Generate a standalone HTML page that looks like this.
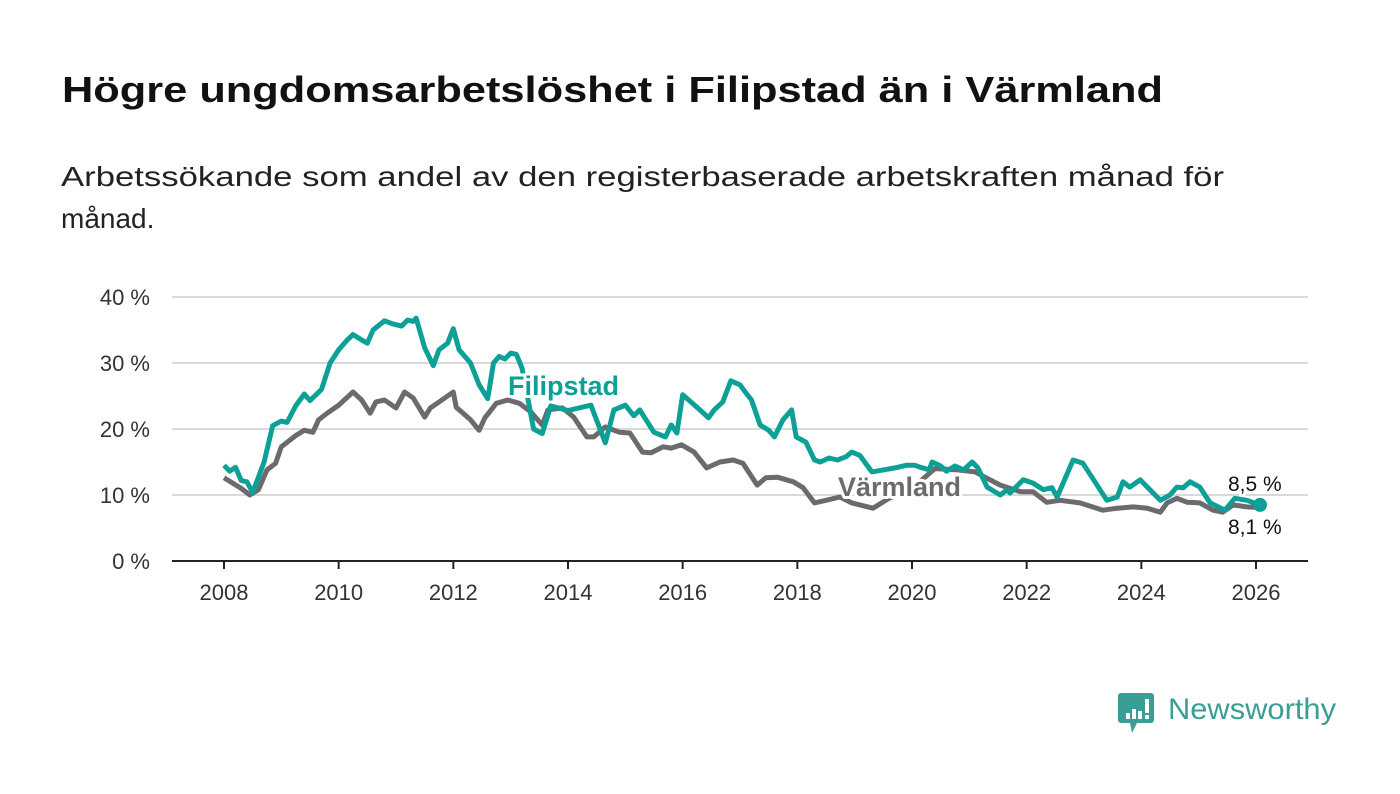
<!DOCTYPE html>
<html><head><meta charset="utf-8"><style>
html,body{margin:0;padding:0;background:#fff;}
svg{display:block;font-family:"Liberation Sans",sans-serif;}
.halo{paint-order:stroke;stroke:#fff;stroke-width:6px;stroke-linejoin:round;}
</style></head><body>
<svg id="chart" width="1400" height="794" viewBox="0 0 1400 794">
<text x="62" y="102" font-size="36" font-weight="bold" fill="#111" textLength="1101" lengthAdjust="spacingAndGlyphs">Högre ungdomsarbetslöshet i Filipstad än i Värmland</text>
<text x="61" y="186" font-size="28" fill="#222" textLength="1163" lengthAdjust="spacingAndGlyphs">Arbetssökande som andel av den registerbaserade arbetskraften månad för</text>
<text x="61" y="228" font-size="28" fill="#222">månad.</text>
<g id="grid"></g><g id="xaxis"></g><g id="lines"></g><g id="labels"></g>
<g>
<path d="M1121 693 h30 a3 3 0 0 1 3 3 v24 a3 3 0 0 1 -3 3 h-14 l-5 10 l-2 -10 h-9 a3 3 0 0 1 -3 -3 v-24 a3 3 0 0 1 3 -3z" fill="#3a9e96"/>
<rect x="1126" y="713" width="4" height="6" fill="#fff"/><rect x="1132" y="709" width="4" height="10" fill="#fff"/><rect x="1138" y="711" width="4" height="8" fill="#fff"/><rect x="1145" y="699" width="4" height="14" fill="#fff"/><rect x="1145" y="715" width="4" height="4" fill="#fff"/>
<text x="1168" y="719" font-size="30" fill="#3a9e96" textLength="168" lengthAdjust="spacingAndGlyphs">Newsworthy</text>
</g>
</svg>
<script>
const yTicks=[0,10,20,30,40];
const xTicks=[2008,2010,2012,2014,2016,2018,2020,2022,2024,2026];
const filDates=[2008.0,2008.1,2008.2,2008.3,2008.4,2008.5,2008.7,2008.85,2009.0,2009.1,2009.25,2009.4,2009.5,2009.7,2009.85,2010.0,2010.15,2010.25,2010.4,2010.5,2010.6,2010.8,2010.95,2011.1,2011.2,2011.3,2011.35,2011.5,2011.65,2011.75,2011.9,2012.0,2012.1,2012.3,2012.45,2012.6,2012.7,2012.8,2012.9,2013.0,2013.1,2013.2,2013.4,2013.55,2013.7,2014.0,2014.4,2014.65,2014.8,2015.0,2015.15,2015.25,2015.5,2015.7,2015.8,2015.9,2016.0,2016.3,2016.45,2016.55,2016.7,2016.84,2017.0,2017.1,2017.2,2017.35,2017.5,2017.6,2017.75,2017.9,2017.98,2018.15,2018.3,2018.4,2018.55,2018.7,2018.85,2018.95,2019.09,2019.3,2019.5,2019.7,2019.9,2020.05,2020.15,2020.3,2020.35,2020.5,2020.6,2020.75,2020.9,2021.05,2021.15,2021.31,2021.54,2021.66,2021.71,2021.94,2022.11,2022.29,2022.44,2022.53,2022.81,2022.98,2023.4,2023.58,2023.68,2023.8,2023.98,2024.33,2024.5,2024.62,2024.73,2024.85,2025.02,2025.2,2025.46,2025.63,2025.84,2026.07];
const filValues=[14.5,13.6,14.2,12.2,12.0,10.4,15,20.5,21.2,21.0,23.5,25.3,24.3,26,30,32,33.5,34.3,33.5,33,35,36.4,35.9,35.6,36.5,36.3,36.8,32.3,29.6,32,33,35.2,32,30,26.7,24.6,30,31,30.6,31.5,31.3,29.2,20,19.3,23.5,22.8,23.6,17.9,22.9,23.6,22,22.9,19.5,18.8,20.6,19.4,25.2,22.9,21.7,22.9,24.1,27.3,26.7,25.5,24.4,20.6,19.8,18.8,21.4,22.9,18.8,18.0,15.3,15.0,15.6,15.3,15.8,16.5,16,13.5,13.8,14.1,14.5,14.5,14.2,13.8,15.0,14.4,13.6,14.4,13.8,15.0,14.1,11.2,10.0,10.8,10.3,12.3,11.8,10.8,11.1,9.7,15.3,14.8,9.2,9.7,12.0,11.2,12.3,9.2,10,11.2,11.1,12,11.2,8.8,7.7,9.5,9.2,8.5];
const varDates=[2008.0,2008.3,2008.45,2008.6,2008.75,2008.9,2009.0,2009.25,2009.4,2009.55,2009.65,2009.8,2010.0,2010.25,2010.4,2010.55,2010.65,2010.8,2011.0,2011.15,2011.3,2011.5,2011.6,2011.8,2012.0,2012.05,2012.3,2012.45,2012.55,2012.75,2012.95,2013.15,2013.35,2013.55,2013.65,2013.9,2014.1,2014.33,2014.45,2014.65,2014.9,2015.08,2015.3,2015.45,2015.66,2015.8,2015.98,2016.2,2016.42,2016.65,2016.88,2017.05,2017.3,2017.45,2017.65,2017.93,2018.1,2018.3,2018.5,2018.74,2018.95,2019.32,2019.6,2020.0,2020.4,2020.8,2021.1,2021.36,2021.54,2021.89,2022.11,2022.35,2022.58,2022.93,2023.33,2023.58,2023.86,2024.1,2024.33,2024.45,2024.62,2024.8,2025.02,2025.25,2025.42,2025.6,2025.84,2026.07];
const varValues=[12.6,11,10,10.8,13.8,14.8,17.3,19,19.8,19.5,21.4,22.4,23.6,25.6,24.4,22.4,24.1,24.4,23.2,25.6,24.7,21.8,23.2,24.4,25.6,23.3,21.4,19.8,21.7,23.9,24.4,23.9,22.6,20.6,22.9,23.2,21.8,18.8,18.8,20.3,19.5,19.4,16.5,16.4,17.3,17.1,17.6,16.5,14.1,15.0,15.3,14.8,11.5,12.6,12.7,12.0,11.1,8.8,9.2,9.7,8.8,8.0,9.5,11,14,13.8,13.5,12.3,11.5,10.5,10.5,8.9,9.2,8.8,7.7,8.0,8.2,8.0,7.4,8.8,9.5,8.9,8.8,7.7,7.4,8.5,8.2,8.1];
const NS="http://www.w3.org/2000/svg";
const x0=224,x1=1256,y0=561,y40=297;
function sx(v){return x0+(v-2008)*(x1-x0)/18;}
function sy(v){return y0-v*(y0-y40)/40;}
function mk(t,a,p){const e=document.createElementNS(NS,t);for(const k in a)e.setAttribute(k,a[k]);p.appendChild(e);return e;}
const grid=document.getElementById('grid');
yTicks.forEach(t=>{
 if(t>0){const l=mk('line',{x1:172,x2:1308,y1:sy(t),y2:sy(t),stroke:'#d9d9d9','stroke-width':2},grid);
 
 }
 const tx=mk('text',{x:150,y:sy(t)+8,'font-size':22,fill:'#333','text-anchor':'end'},grid);
 tx.textContent=t+' %';
 
 
});
const xa=document.getElementById('xaxis');
const base=mk('line',{x1:172,x2:1308,y1:y0,y2:y0,stroke:'#222','stroke-width':2},xa);


xTicks.forEach(t=>{
 mk('line',{x1:sx(t),x2:sx(t),y1:y0,y2:y0+8,stroke:'#222','stroke-width':2},xa);
 const tx=mk('text',{x:sx(t),y:600,'font-size':22,fill:'#333','text-anchor':'middle'},xa);
 tx.textContent=t;
 
 
});
const lines=document.getElementById('lines');
function path(d,v){return d.map((x,i)=>(i?'L':'M')+sx(x).toFixed(1)+' '+sy(v[i]).toFixed(1)).join(' ');}
const pv=mk('path',{d:path(varDates,varValues),fill:'none',stroke:'#6d6a6f','stroke-width':5,'stroke-linejoin':'round'},lines);


const pf=mk('path',{d:path(filDates,filValues),fill:'none',stroke:'#0ca096','stroke-width':5,'stroke-linejoin':'round'},lines);


const lf=filDates.length-1;
const dot=mk('circle',{cx:sx(filDates[lf]),cy:sy(filValues[lf]),r:7,fill:'#0ca096'},lines);


const lb=document.getElementById('labels');
const l1=mk('text',{x:508,y:395,'font-size':27,'font-weight':'bold',fill:'#0ca096',class:'halo'},lb);
l1.textContent='Filipstad';


const l2=mk('text',{x:838,y:496,'font-size':27,'font-weight':'bold',fill:'#6d6a6f',class:'halo'},lb);
l2.textContent='Värmland';


const e1=mk('text',{x:1228,y:491,'font-size':21,fill:'#111',class:'halo'},lb);
e1.textContent=String(filValues[lf]).replace('.',',')+' %';


const e2=mk('text',{x:1228,y:534,'font-size':21,fill:'#111',class:'halo'},lb);
e2.textContent=String(varValues[varValues.length-1]).replace('.',',')+' %';


</script>
</body></html>
